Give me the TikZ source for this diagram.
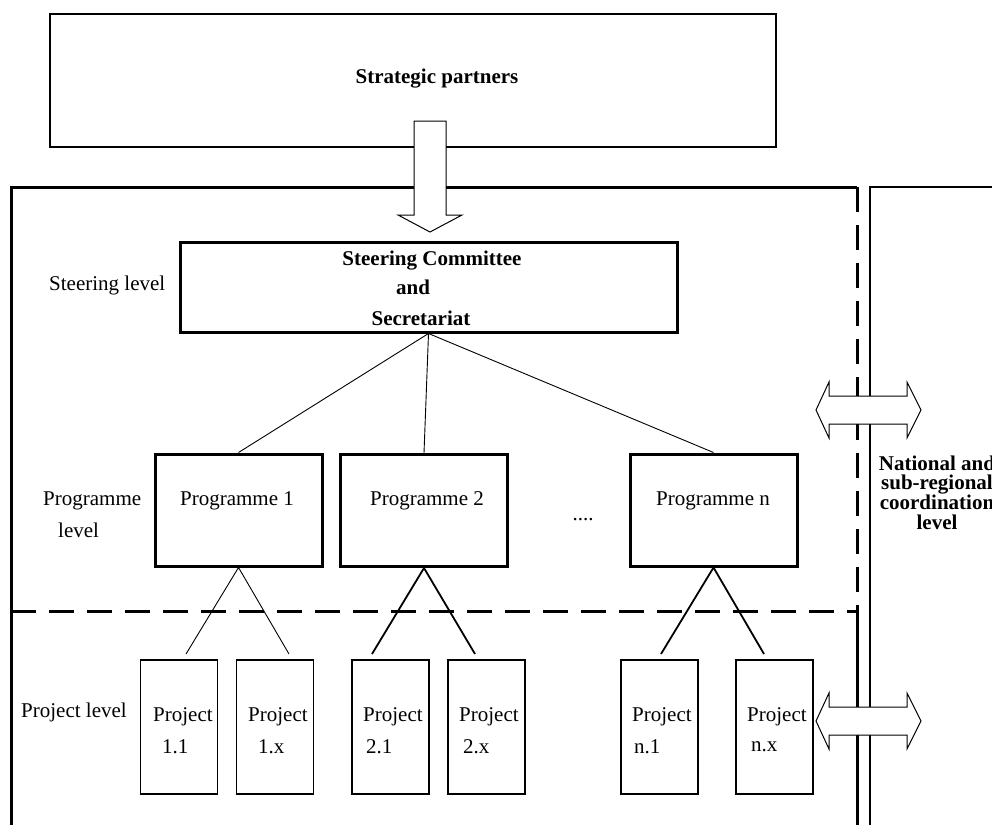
\documentclass[tikz,border=0pt]{standalone}
\usepackage{fontspec}
\setmainfont{Liberation Serif}
\begin{document}
\begin{tikzpicture}[x=1pt,y=-1pt,
  txt/.style={font=\fontsize{21}{24}\selectfont, inner sep=0pt},
  boldtxt/.style={font=\fontsize{21}{24}\selectfont\bfseries, inner sep=0pt},
  partnerbox/.style={draw, line width=2pt, inner sep=0pt},
  steerbox/.style={draw, line width=3pt, inner sep=0pt},
  progbox/.style={draw, line width=3pt, inner sep=0pt, minimum width=167pt, minimum height=112pt},
  projbox/.style={draw, line width=1.7pt, inner sep=0pt, minimum width=77pt, minimum height=134pt},
  frame/.style={line width=3pt},
  framedash/.style={line width=3pt, dash pattern=on 25pt off 13pt},
  thinlink/.style={line width=0.9pt},
  thicklink/.style={line width=1.8pt},
  hollow/.style={draw, line width=1pt, fill=white, line join=miter}
]
\useasboundingbox (0,0) rectangle (992,825);
\clip (0,0) rectangle (992,825);

% outer frames of the steering/programme/project area and the coordination column
\draw[frame] (11,825) -- (11,187) -- (857,187);
\draw[framedash] (857,187) -- (857,611);
\draw[frame] (857,611) -- (857,825);
\draw[framedash] (11,611) -- (857,611);
\draw[line width=1.2pt] (870,825) -- (870,187) -- (992,187);

% strategic partners
\node[partnerbox, minimum width=726pt, minimum height=133pt] (partners) at (413,80.5) {};
\node[boldtxt] (partnerstxt) at (437,79) {Strategic partners};

% hollow arrow from the partners down to the steering committee
\draw[hollow] (414,121) -- (446,121) -- (446,215) -- (462,215) -- (430,232)
  -- (398,215) -- (414,215) -- cycle;

% steering committee
\node[steerbox, minimum width=497pt, minimum height=90pt] (steer) at (428.5,287) {};
\node[boldtxt] (steer1) at (432,261) {Steering Committee};
\node[boldtxt] (steer2) at (413,287) {and};
\node[boldtxt] (steer3) at (421,318) {Secretariat};

% level labels
\node[txt, anchor=west] (lvlsteer) at (49,285) {Steering level};
\node[txt, anchor=west] (lvlprog1) at (43,501) {Programme};
\node[txt, anchor=west] (lvlprog2) at (58,530) {level};
\node[txt, anchor=west] (lvlproj) at (21,712) {Project level};

% programmes
\node[progbox] (p1) at (238.5,510) {};
\node[progbox] (p2) at (424,510.5) {};
\node[progbox] (pn) at (713.5,510) {};
\node[txt] (p1txt) at (237,501) {Programme 1};
\node[txt] (p2txt) at (427,501) {Programme 2};
\node[txt] (pntxt) at (713,501) {Programme n};
\node[txt] (dots) at (583,520) {....};

\draw[thinlink] (steer.south) -- (p1.north);
\draw[thinlink] (steer.south) -- (p2.north);
\draw[thinlink] (steer.south) -- (pn.north);

% projects
\node[projbox] (q11) at (179,727) {};
\node[projbox] (q1x) at (275,727) {};
\node[projbox] (q21) at (390.5,727) {};
\node[projbox] (q2x) at (486.5,727) {};
\node[projbox] (qn1) at (659.5,727) {};
\node[projbox] (qnx) at (774.5,727) {};

\node[txt, anchor=west] (t11a) at (153,717) {Project};
\node[txt, anchor=west] (t11b) at (162,747) {1.1};
\node[txt, anchor=west] (t1xa) at (248,717) {Project};
\node[txt, anchor=west] (t1xb) at (258,747) {1.x};
\node[txt, anchor=west] (t21a) at (363,717) {Project};
\node[txt, anchor=west] (t21b) at (366,747) {2.1};
\node[txt, anchor=west] (t2xa) at (459,717) {Project};
\node[txt, anchor=west] (t2xb) at (463,747) {2.x};
\node[txt, anchor=west] (tn1a) at (632,717) {Project};
\node[txt, anchor=west] (tn1b) at (634,747) {n.1};
\node[txt, anchor=west] (tnxa) at (747,717) {Project};
\node[txt, anchor=west] (tnxb) at (751,747) {n.x};

% branch ends just above the project boxes
\coordinate (e11) at (186,654);
\coordinate (e1x) at (289,654);
\coordinate (e21) at (372,654);
\coordinate (e2x) at (475,654);
\coordinate (en1) at (661,654);
\coordinate (enx) at (764,654);

\draw[thinlink] (e11) -- (p1.south) -- (e1x);
\draw[thicklink] (e21) -- (p2.south) -- (e2x);
\draw[thicklink] (en1) -- (pn.south) -- (enx);

% coordination column
\node[boldtxt, align=center, font=\fontsize{21}{19.6}\selectfont\bfseries] (coord) at (937,492.5)
  {National and\\sub-regional\\coordination\\level};

% two-way links to the coordination level
\draw[hollow] (816,410) -- (829,382) -- (829,396) -- (907,396) -- (907,382) -- (921,410)
  -- (907,438) -- (907,424) -- (829,424) -- (829,438) -- cycle;
\draw[hollow] (816,721) -- (829,693) -- (829,707) -- (907,707) -- (907,693) -- (921,721)
  -- (907,749) -- (907,735) -- (829,735) -- (829,749) -- cycle;
\end{tikzpicture}
\end{document}
